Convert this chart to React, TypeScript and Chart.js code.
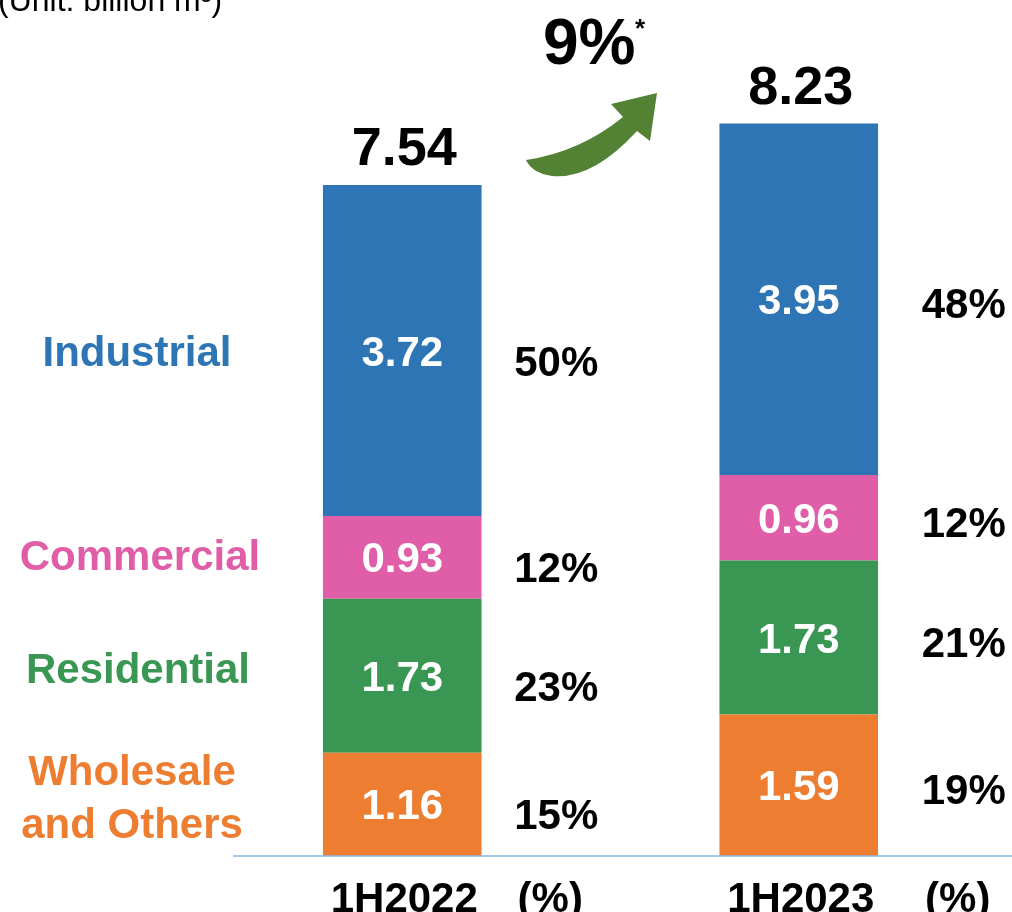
import React, { useEffect, useRef } from "react";
import { Chart, registerables } from "chart.js";

Chart.register(...registerables);

const categories = ["1H2022", "1H2023"];
const seriesNames = ["Wholesale\nand Others", "Residential", "Commercial", "Industrial"];
const wholesale = [1.16, 1.59];
const residential = [1.73, 1.73];
const commercial = [0.93, 0.96];
const industrial = [3.72, 3.95];
const totals = ["7.54", "8.23"];
const wholesalePct = ["15%", "19%"];
const residentialPct = ["23%", "21%"];
const commercialPct = ["12%", "12%"];
const industrialPct = ["50%", "48%"];
const valueLabels = [
  ["1.16", "1.59"],
  ["1.73", "1.73"],
  ["0.93", "0.96"],
  ["3.72", "3.95"],
];
const growthLabel = "9%";
const unitLabel = "(Unit: billion m³)";
const pctHeader = "(%)";

const colors = ["#ED7D31", "#3A9753", "#E05EA8", "#2E75B6"];
const labelColors = ["#ED7D31", "#3A9753", "#E05EA8", "#2E75B6"];
const FONT = "'Liberation Sans', Arial, sans-serif";

export default function App() {
  const ref = useRef<HTMLCanvasElement | null>(null);

  useEffect(() => {
    if (!ref.current) return;
    const pcts = [wholesalePct, residentialPct, commercialPct, industrialPct];
    const pctDx = [154, 165];
    const pctDy = [10, 4];
    const leftLabelDy = [-8, -8, -2, 0];
    const leftLabelX = [132, 138, 140, 137];
    const FS = 42;

    const overlay = {
      id: "overlay",
      afterDatasetsDraw(chart: any) {
        const ctx = chart.ctx as CanvasRenderingContext2D;
        const y0 = chart.scales.y.getPixelForValue(0);
        ctx.save();
        // baseline
        ctx.strokeStyle = "#8DB6E2";
        ctx.lineWidth = 1.5;
        ctx.beginPath();
        ctx.moveTo(233, y0);
        ctx.lineTo(1012, y0);
        ctx.stroke();

        const cap = (size: number) => size * 0.358;

        // value labels inside bars, percentages
        for (let d = 0; d < 4; d++) {
          const meta = chart.getDatasetMeta(d);
          meta.data.forEach((bar: any, i: number) => {
            const cy = (bar.y + bar.base) / 2;
            ctx.fillStyle = "#FFFFFF";
            ctx.font = `bold ${FS}px ${FONT}`;
            ctx.textAlign = "center";
            ctx.textBaseline = "alphabetic";
            ctx.fillText(valueLabels[d][i], bar.x, cy + cap(FS));
            ctx.fillStyle = "#000000";
            ctx.fillText(pcts[d][i], bar.x + pctDx[i], cy + pctDy[i] + cap(FS));
            if (i === 0) {
              ctx.fillStyle = labelColors[d];
              const lines = seriesNames[d].split("\n");
              const lh = 53;
              const startY = cy + leftLabelDy[d] - ((lines.length - 1) * lh) / 2;
              lines.forEach((ln, k) => {
                ctx.fillText(ln, leftLabelX[d], startY + k * lh + cap(FS));
              });
            }
          });
        }

        // totals & category labels
        const top = chart.getDatasetMeta(3);
        top.data.forEach((bar: any, i: number) => {
          ctx.fillStyle = "#000000";
          ctx.textAlign = "center";
          ctx.font = `bold 54px ${FONT}`;
          ctx.fillText(totals[i], bar.x + 2, bar.y - 20);
          ctx.font = `bold ${FS}px ${FONT}`;
          ctx.fillText(categories[i], bar.x + 2, 912);
          ctx.fillText(pctHeader, bar.x + pctDx[i] - 6, 912);
        });

        // unit label
        ctx.textAlign = "left";
        ctx.font = `32px ${FONT}`;
        ctx.fillStyle = "#000000";
        ctx.fillText(unitLabel, -2, 11);

        // growth label
        ctx.font = `bold 64px ${FONT}`;
        ctx.fillText(growthLabel, 543, 64);
        ctx.font = `bold 26px ${FONT}`;
        ctx.fillText("*", 635, 37);

        // arrow
        ctx.fillStyle = "#548235";
        ctx.beginPath();
        ctx.moveTo(526, 160);
        ctx.quadraticCurveTo(580, 152, 623, 117);
        ctx.lineTo(611, 104);
        ctx.lineTo(657, 93);
        ctx.lineTo(650, 141);
        ctx.lineTo(637, 131);
        ctx.quadraticCurveTo(592, 180, 552, 176);
        ctx.quadraticCurveTo(532, 173, 526, 160);
        ctx.closePath();
        ctx.fill();
        ctx.restore();
      },
    };

    const chart = new Chart(ref.current, {
      type: "bar",
      data: {
        labels: categories,
        datasets: [wholesale, residential, commercial, industrial].map((data, k) => ({
          label: seriesNames[k],
          data,
          backgroundColor: colors[k],
          borderWidth: 0,
          barPercentage: 1,
          categoryPercentage: 0.4,
        })),
      },
      options: {
        responsive: false,
        animation: false,
        layout: { padding: { left: 204, right: 15, top: 55, bottom: 56 } },
        plugins: { legend: { display: false }, tooltip: { enabled: false } },
        scales: {
          x: { stacked: true, display: false },
          y: { stacked: true, display: false, min: 0, max: 9 },
        },
      },
      plugins: [overlay],
    });
    return () => chart.destroy();
  }, []);

  return (
    <div style={{ position: "fixed", left: 0, top: 0, width: 1012, height: 912, background: "#fff" }}>
      <canvas ref={ref} width={1012} height={912} style={{ display: "block" }} />
    </div>
  );
}
